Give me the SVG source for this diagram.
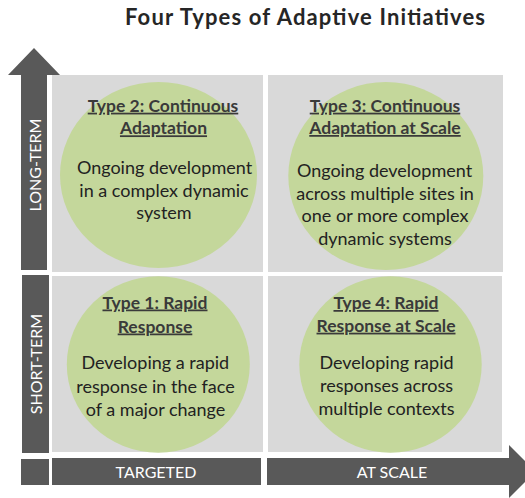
<svg xmlns="http://www.w3.org/2000/svg" width="525" height="498" viewBox="0 0 525 498">
<style>
.bg{fill:#ffffff}
.quad{fill:#d9d9d9}
.circ{fill:#c4d79b}
.axis{fill:#595959}
.title{font-family:Lato,"Liberation Sans",sans-serif;font-weight:bold;font-size:22px;fill:#262626;text-anchor:middle}
.ax{font-family:Lato,"Liberation Sans",sans-serif;font-size:16px;fill:#ffffff;text-anchor:middle}
.head{font-family:Lato,"Liberation Sans",sans-serif;font-weight:bold;font-size:17.5px;fill:#3a3a3a;text-anchor:middle;text-decoration:underline}
.body{font-family:Lato,"Liberation Sans",sans-serif;font-size:18px;fill:#222222;text-anchor:middle}
</style>
<rect class="bg" x="0" y="0" width="525" height="498"/>
<text class="title" x="305" y="25" textLength="360" lengthAdjust="spacing">Four Types of Adaptive Initiatives</text>

<g id="axes">
  <path id="long-term-arrow" class="axis" d="M21,270 L21,75 L8,75 L34,48 L60,75 L47,75 L47,270 Z"/>
  <text class="ax" transform="translate(35,165) rotate(-90)" y="5.5">LONG-TERM</text>
  <rect id="short-term-bar" class="axis" x="22" y="275" width="27" height="178"/>
  <text class="ax" transform="translate(36,364) rotate(-90)" y="5.5">SHORT-TERM</text>
  <rect id="corner" class="axis" x="21" y="459" width="28" height="26"/>
  <rect id="targeted-bar" class="axis" x="52" y="458" width="209" height="27"/>
  <text class="ax" x="156" y="477.5">TARGETED</text>
  <path id="at-scale-arrow" class="axis" d="M267,458 L509,458 L509,445 L535.5,471.5 L509,498 L509,485 L267,485 Z"/>
  <text class="ax" x="392" y="477.5">AT SCALE</text>
</g>

<g id="type2">
  <rect class="quad" x="52" y="75" width="211" height="197"/>
  <ellipse class="circ" cx="158.5" cy="175" rx="98.5" ry="93"/>
  <text class="head" x="163" y="111.7">Type 2: Continuous</text>
  <text class="head" x="163.5" y="134.3">Adaptation</text>
  <text class="body" x="164.5" y="174">Ongoing development</text>
  <text class="body" x="164" y="196.5">in a complex dynamic</text>
  <text class="body" x="164" y="219">system</text>
</g>

<g id="type3">
  <rect class="quad" x="268" y="75" width="235" height="197"/>
  <ellipse class="circ" cx="385.8" cy="176" rx="97.5" ry="94"/>
  <text class="head" x="385" y="111.7">Type 3: Continuous</text>
  <text class="head" x="385" y="134">Adaptation at Scale</text>
  <text class="body" x="384.5" y="176.7">Ongoing development</text>
  <text class="body" x="385" y="199.5">across multiple sites in</text>
  <text class="body" x="385" y="222.3">one or more complex</text>
  <text class="body" x="385" y="245">dynamic systems</text>
</g>

<g id="type1">
  <rect class="quad" x="52" y="276" width="211" height="176"/>
  <ellipse class="circ" cx="158.3" cy="364.5" rx="91.5" ry="88.2"/>
  <text class="head" x="155" y="308.5">Type 1: Rapid</text>
  <text class="head" x="155" y="332.5">Response</text>
  <text class="body" x="155.3" y="369.3">Developing a rapid</text>
  <text class="body" x="155.5" y="392.5">response in the face</text>
  <text class="body" x="155.5" y="415.6">of a major change</text>
</g>

<g id="type4">
  <rect class="quad" x="268" y="276" width="234" height="176"/>
  <ellipse class="circ" cx="390.5" cy="364.5" rx="91.2" ry="88.2"/>
  <text class="head" x="386" y="309">Type 4: Rapid</text>
  <text class="head" x="386" y="331.7">Response at Scale</text>
  <text class="body" x="386.5" y="369">Developing rapid</text>
  <text class="body" x="386.5" y="392.3">responses across</text>
  <text class="body" x="386.5" y="415">multiple contexts</text>
</g>

<g id="connectors"></g>
</svg>
